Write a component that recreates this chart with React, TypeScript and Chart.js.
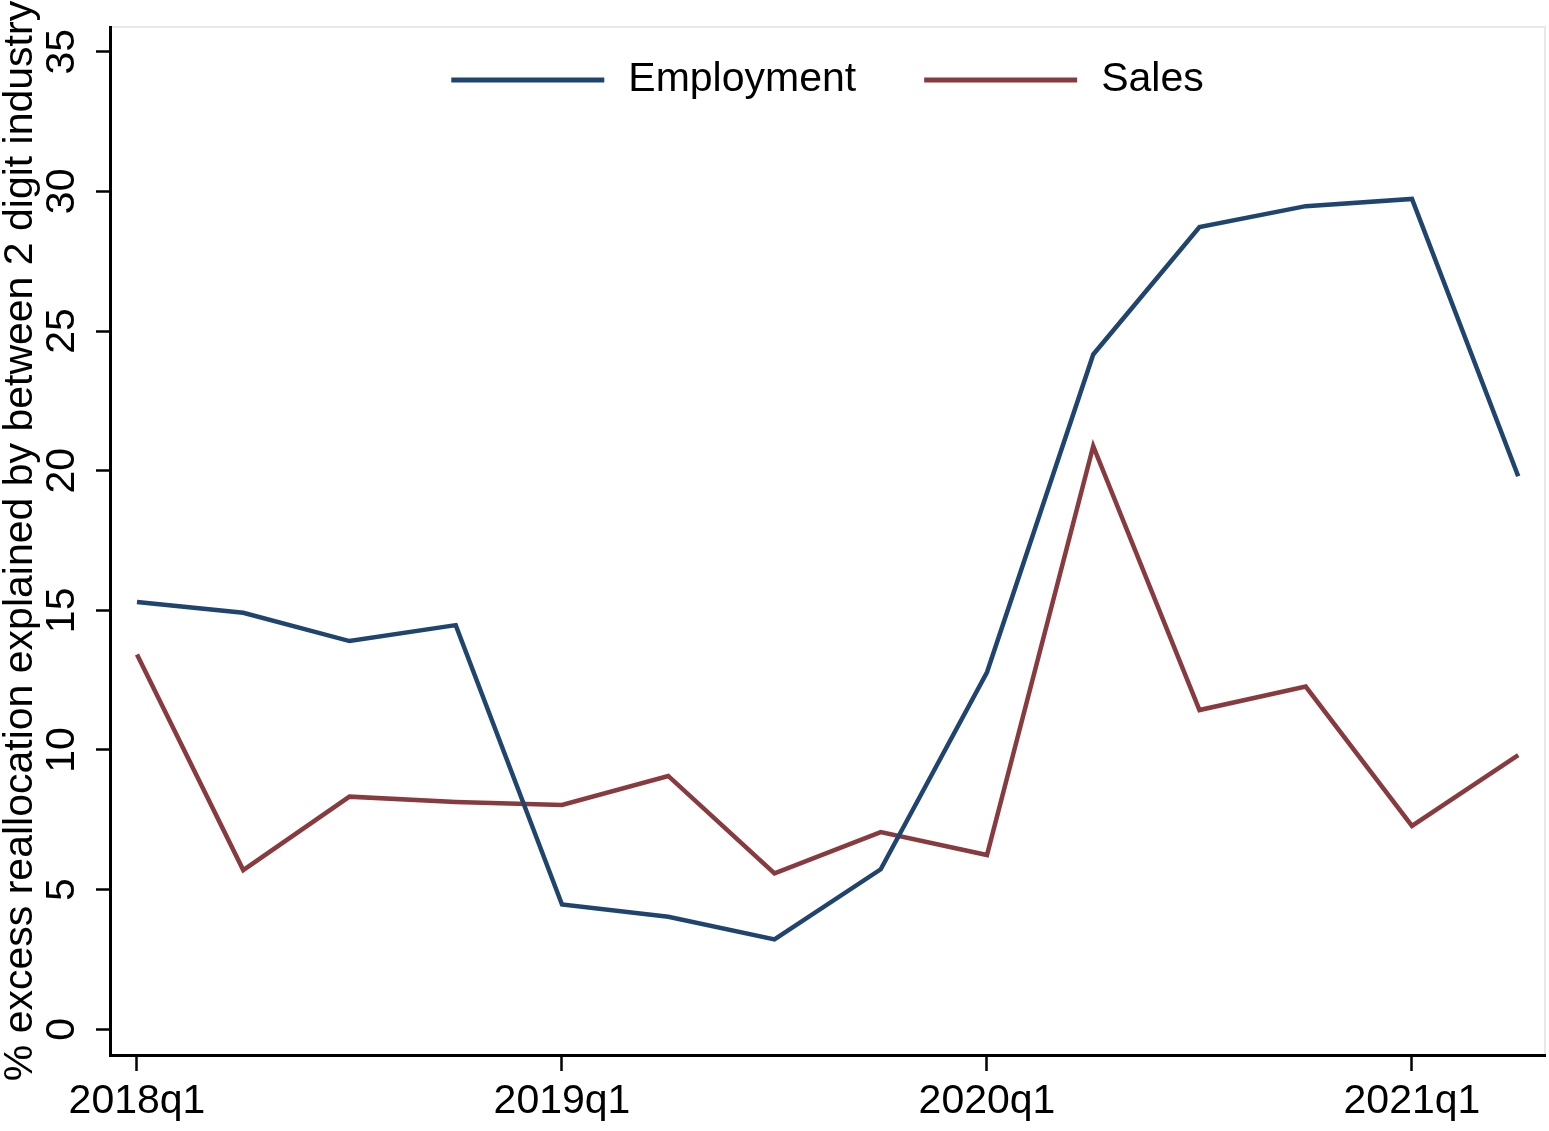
import React, { useEffect, useRef } from 'react';
import { Chart, registerables } from 'chart.js';

Chart.register(...registerables);

const quarters = ['2018q1', '2018q2', '2018q3', '2018q4', '2019q1', '2019q2', '2019q3', '2019q4', '2020q1', '2020q2', '2020q3', '2020q4', '2021q1', '2021q2'];
const employment = [15.3, 14.91, 13.9, 14.47, 4.47, 4.03, 3.22, 5.73, 12.78, 24.16, 28.72, 29.47, 29.73, 19.8];
const sales = [13.42, 5.7, 8.33, 8.14, 8.03, 9.07, 5.58, 7.06, 6.24, 20.88, 11.43, 12.27, 7.28, 9.82];
const xTickPositions = [0, 4, 8, 12];
const yTickValues = [0, 5, 10, 15, 20, 25, 30, 35];
const seriesLabels = ['Employment', 'Sales'];
const seriesColors = ['#1f456e', '#873b3f'];
const yTitle = '% excess reallocation explained by between 2 digit industry';

const FONT = '"Liberation Sans", Arial, Helvetica, sans-serif';

const plotFrame = {
  id: 'plotFrame',
  beforeDraw(chart: any) {
    const { ctx, chartArea: a } = chart;
    ctx.save();
    ctx.fillStyle = '#ffffff';
    ctx.fillRect(0, 0, chart.width, chart.height);
    ctx.strokeStyle = '#e8e8e8';
    ctx.lineWidth = 2;
    ctx.strokeRect(a.left, a.top, a.right - a.left, a.bottom - a.top);
    ctx.restore();
  },
};

const insideLegend = {
  id: 'insideLegend',
  afterDraw(chart: any) {
    const { ctx, chartArea } = chart;
    const lineLen = 153;
    const gapText = 24;
    const gapItem = 68;
    const size = 41;
    ctx.save();
    ctx.font = `${size}px ${FONT}`;
    const items = chart.data.datasets.map((ds: any) => ({
      label: ds.label,
      color: ds.borderColor,
      w: ctx.measureText(ds.label).width,
    }));
    const total =
      items.reduce((s: number, it: any) => s + lineLen + gapText + it.w, 0) + gapItem * (items.length - 1);
    let x = (chartArea.left + chartArea.right) / 2 - total / 2;
    const y = chartArea.top + 53;
    items.forEach((it: any) => {
      ctx.strokeStyle = it.color;
      ctx.lineWidth = 5;
      ctx.beginPath();
      ctx.moveTo(x, y);
      ctx.lineTo(x + lineLen, y);
      ctx.stroke();
      ctx.fillStyle = '#000';
      ctx.textBaseline = 'middle';
      ctx.textAlign = 'left';
      ctx.fillText(it.label, x + lineLen + gapText, y);
      x += lineLen + gapText + it.w + gapItem;
    });
    ctx.restore();
  },
};

export default function App() {
  const canvasRef = useRef<HTMLCanvasElement | null>(null);

  useEffect(() => {
    if (!canvasRef.current) return;
    const font = { family: FONT, size: 41 };
    const chart = new Chart(canvasRef.current, {
      type: 'line',
      data: {
        datasets: [
          {
            label: seriesLabels[0],
            data: employment.map((v, i) => ({ x: i, y: v })),
            borderColor: seriesColors[0],
            backgroundColor: seriesColors[0],
            borderWidth: 4.5,
            pointRadius: 0,
            tension: 0,
            fill: false,
          },
          {
            label: seriesLabels[1],
            data: sales.map((v, i) => ({ x: i, y: v })),
            borderColor: seriesColors[1],
            backgroundColor: seriesColors[1],
            borderWidth: 4.5,
            pointRadius: 0,
            tension: 0,
            fill: false,
          },
        ],
      },
      options: {
        responsive: false,
        animation: false,
        events: [],
        layout: { padding: { top: 27, right: 4, left: 0, bottom: 0 } },
        plugins: {
          legend: { display: false },
          tooltip: { enabled: false },
        },
        scales: {
          x: {
            type: 'linear',
            min: -0.254,
            max: 13.252,
            afterBuildTicks: (s: any) => {
              s.ticks = xTickPositions.map((v) => ({ value: v }));
            },
            afterFit: (s: any) => {
              s.height = 76;
              s.paddingLeft = 0;
              s.paddingRight = 0;
              s.paddingTop = 0;
              s.paddingBottom = 0;
            },
            ticks: {
              callback: (v: any) => quarters[v] ?? '',
              font,
              color: '#000',
              padding: 6,
              maxRotation: 0,
              minRotation: 0,
              autoSkip: false,
            },
            grid: { drawOnChartArea: false, drawTicks: true, tickLength: 16, tickWidth: 2.5, tickColor: '#000' },
            border: { display: true, color: '#000', width: 3 },
          },
          y: {
            type: 'linear',
            min: -0.92,
            max: 35.884,
            afterBuildTicks: (s: any) => {
              s.ticks = yTickValues.map((v) => ({ value: v }));
            },
            afterFit: (s: any) => {
              s.width = 110;
              s.paddingLeft = 0;
              s.paddingRight = 0;
              s.paddingTop = 0;
              s.paddingBottom = 0;
            },
            ticks: {
              font,
              color: '#000',
              minRotation: 90,
              maxRotation: 90,
              crossAlign: 'center',
              padding: 11,
            },
            grid: { drawOnChartArea: false, drawTicks: true, tickLength: 14, tickWidth: 2.5, tickColor: '#000' },
            border: { display: true, color: '#000', width: 3 },
            title: {
              display: true,
              text: yTitle,
              font: { family: FONT, size: 41, lineHeight: 1 },
              color: '#000',
              padding: 0,
            },
          },
        },
      } as any,
      plugins: [plotFrame, insideLegend],
    });
    return () => chart.destroy();
  }, []);

  return (
    <div style={{ position: 'absolute', left: 0, top: 0, width: 1549, height: 1131 }}>
      <canvas ref={canvasRef} width={1549} height={1131} style={{ display: 'block' }} />
    </div>
  );
}
